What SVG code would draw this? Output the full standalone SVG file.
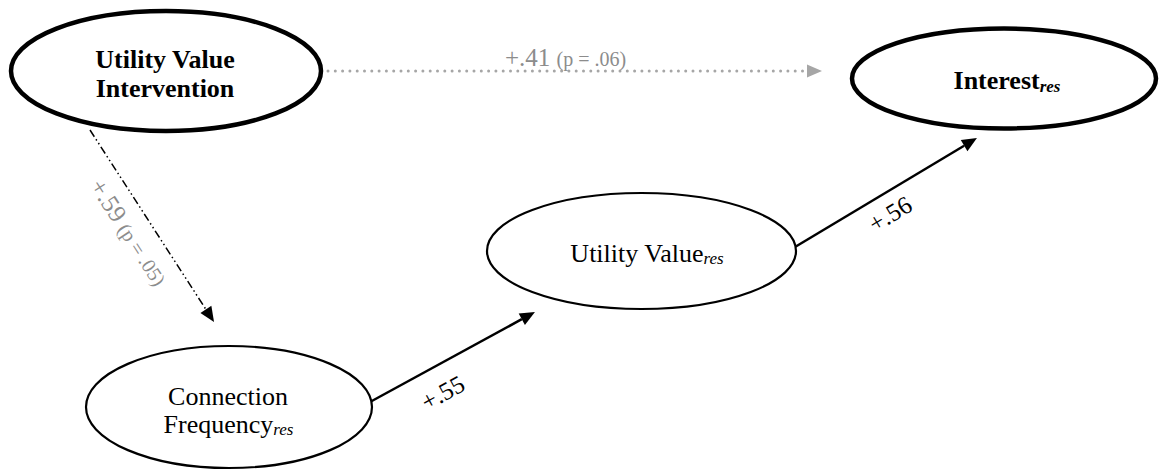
<svg xmlns="http://www.w3.org/2000/svg" width="1160" height="470" viewBox="0 0 1160 470">
<style>
.node{fill:#fff;stroke:#000}
.bold{stroke-width:4.5}
.thin{stroke-width:2.2}
text{font-family:"Liberation Serif","Times New Roman",serif}
.bt{font-size:26px;font-weight:bold;fill:#000}
.rt{font-size:26px;fill:#000}
.sub{font-size:17px;font-style:italic}
.lab{font-size:25px}
.small{font-size:20px}
.gray{fill:#8c8c8c}
.solid{stroke:#000;stroke-width:2.5;fill:none}
</style>
<defs>
<marker id="ah" markerUnits="userSpaceOnUse" markerWidth="16" markerHeight="13" refX="0" refY="6.5" orient="auto" overflow="visible">
<path d="M0,0 L15,6.5 L0,13 z" fill="#000"/>
</marker>
<marker id="ahg" markerUnits="userSpaceOnUse" markerWidth="16" markerHeight="13" refX="0" refY="6.5" orient="auto" overflow="visible">
<path d="M0,0 L15,6.5 L0,13 z" fill="#a6a6a6"/>
</marker>
</defs>
<g id="connectors">
<path d="M328,71 L807,71" stroke="#a6a6a6" stroke-width="3" stroke-linecap="round" stroke-dasharray="0 7.3" fill="none" marker-end="url(#ahg)"/>
<path d="M90,130 L205.9,309.4" stroke="#000" stroke-width="1.5" stroke-dasharray="8 3 1.5 3 1.5 3" fill="none" marker-end="url(#ah)"/>
<path d="M370,402 L521.8,319.2" class="solid" marker-end="url(#ah)"/>
<path d="M795,247 L964.1,145.7" class="solid" marker-end="url(#ah)"/>
<text class="lab gray" x="505" y="66">+.41 <tspan class="small">(p = .06)</tspan></text>
<text class="lab gray" transform="translate(89,186) rotate(57)">+.59 <tspan class="small">(p = .05)</tspan></text>
<text class="lab" transform="translate(427,411) rotate(-28.6)">+.55</text>
<text class="lab" transform="translate(875,233) rotate(-31)">+.56</text>
</g>
<g id="uvi">
<ellipse class="node bold" cx="166" cy="71" rx="155" ry="60"/>
<text class="bt" x="165" y="68" text-anchor="middle">Utility Value</text>
<text class="bt" x="165" y="97" text-anchor="middle">Intervention</text>
</g>
<g id="interest">
<ellipse class="node bold" cx="1004" cy="78.5" rx="152" ry="50"/>
<text class="bt" x="1007" y="89" text-anchor="middle">Interest<tspan class="sub" dy="3">res</tspan></text>
</g>
<g id="uvres">
<ellipse class="node thin" cx="641.5" cy="251" rx="154.5" ry="58"/>
<text class="rt" x="647" y="262" text-anchor="middle">Utility Value<tspan class="sub" dy="2">res</tspan></text>
</g>
<g id="cfres">
<ellipse class="node thin" cx="229" cy="407" rx="143" ry="61"/>
<text class="rt" x="228" y="405" text-anchor="middle">Connection</text>
<text class="rt" x="228.5" y="433" text-anchor="middle">Frequency<tspan class="sub" dy="2">res</tspan></text>
</g>
</svg>
